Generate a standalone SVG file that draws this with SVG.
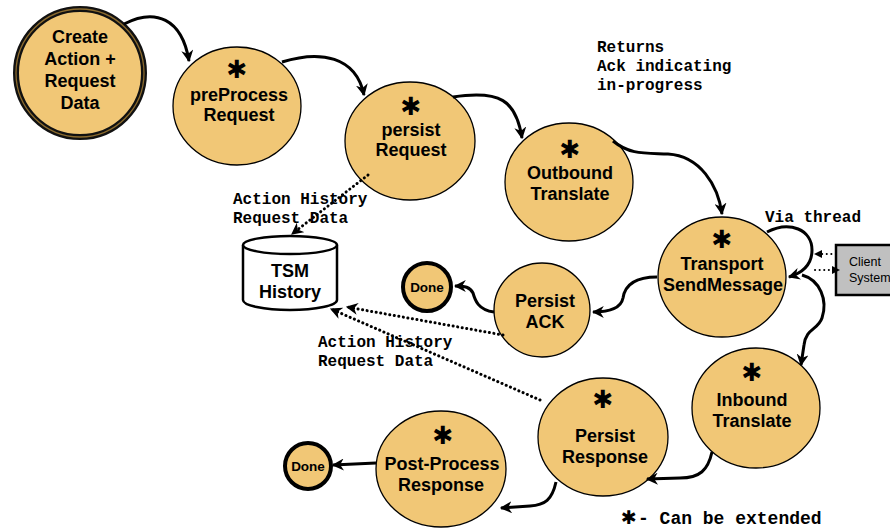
<svg xmlns="http://www.w3.org/2000/svg" width="890" height="529" viewBox="0 0 890 529">
<defs>
<marker id="ah" viewBox="0 0 10 10" refX="9" refY="5" markerWidth="4" markerHeight="4" orient="auto" markerUnits="strokeWidth">
<path d="M0,0 L10,5 L0,10 L3,5 Z" fill="#000"/>
</marker>
<marker id="ahd" viewBox="0 0 10 10" refX="9" refY="5" markerWidth="4" markerHeight="4" orient="auto" markerUnits="strokeWidth">
<path d="M0,0 L10,5 L0,10 L3,5 Z" fill="#000"/>
</marker>
<style>
.n{fill:#F1C776;stroke:#000;stroke-width:1.3}
.t{font-family:"Liberation Sans",Arial,sans-serif;font-weight:bold;font-size:18px;fill:#000;text-anchor:middle}
.s{font-family:"DejaVu Sans",sans-serif;font-weight:bold;font-size:25px;fill:#000;text-anchor:middle}
.m{font-family:"Liberation Mono","Courier New",monospace;font-weight:bold;font-size:16px;fill:#000}
.c{fill:none;stroke:#000;stroke-width:3;marker-end:url(#ah)}
.d{fill:none;stroke:#000;stroke-width:3;stroke-dasharray:0.1 4.5;stroke-linecap:round}
.dm{marker-end:url(#ahd)}
</style>
</defs>
<rect width="890" height="529" fill="#fff"/>

<g id="create">
<circle cx="80" cy="73" r="64" fill="#F1C776" stroke="#111" stroke-width="6"/>
<circle cx="80" cy="73" r="64" fill="none" stroke="#8a6a2e" stroke-width="1.3"/>
<text class="t" x="80" y="43">Create</text>
<text class="t" x="80" y="65">Action +</text>
<text class="t" x="80" y="87">Request</text>
<text class="t" x="80" y="109">Data</text>
</g>

<g id="preprocess">
<ellipse class="n" cx="237" cy="106" rx="64" ry="59"/>
<text class="s" x="237" y="78">✱</text>
<text class="t" x="239" y="101">preProcess</text>
<text class="t" x="239" y="121">Request</text>
</g>

<g id="persistrequest">
<ellipse class="n" cx="410" cy="141" rx="65" ry="59"/>
<text class="s" x="411" y="115">✱</text>
<text class="t" x="411" y="136">persist</text>
<text class="t" x="411" y="156">Request</text>
</g>

<g id="outbound">
<ellipse class="n" cx="569" cy="182" rx="64" ry="59"/>
<text class="s" x="570" y="158">✱</text>
<text class="t" x="570" y="179">Outbound</text>
<text class="t" x="570" y="200">Translate</text>
</g>

<g id="transport">
<ellipse class="n" cx="722" cy="277" rx="64" ry="60"/>
<text class="s" x="722" y="248">✱</text>
<text class="t" x="722" y="270">Transport</text>
<text class="t" x="723" y="291">SendMessage</text>
</g>

<g id="client">
<rect x="836" y="245" width="60" height="50" fill="#C0C0C0" stroke="#000" stroke-width="2.5"/>
<text x="849" y="266" font-family="Liberation Sans,Arial,sans-serif" font-size="12.5" fill="#000">Client</text>
<text x="849" y="282" font-family="Liberation Sans,Arial,sans-serif" font-size="12.5" fill="#000">System</text>
</g>

<g id="inbound">
<ellipse class="n" cx="756" cy="408" rx="64" ry="60"/>
<text class="s" x="752" y="381">✱</text>
<text class="t" x="752" y="406">Inbound</text>
<text class="t" x="752" y="427">Translate</text>
</g>

<g id="persistack">
<ellipse class="n" cx="542" cy="310" rx="48" ry="47"/>
<text class="t" x="545" y="307">Persist</text>
<text class="t" x="545" y="328">ACK</text>
</g>

<g id="done1">
<circle cx="427" cy="287" r="24" fill="#F1C776" stroke="#000" stroke-width="4"/>
<text class="t" x="427" y="292" style="font-size:13.5px">Done</text>
</g>

<g id="persistresponse">
<ellipse class="n" cx="603" cy="437" rx="65" ry="59"/>
<text class="s" x="603" y="408">✱</text>
<text class="t" x="605" y="442">Persist</text>
<text class="t" x="605" y="463">Response</text>
</g>

<g id="postprocess">
<ellipse class="n" cx="441" cy="469" rx="65" ry="58"/>
<text class="s" x="443" y="444">✱</text>
<text class="t" x="442" y="470">Post-Process</text>
<text class="t" x="441" y="491">Response</text>
</g>

<g id="done2">
<circle cx="308" cy="466" r="23" fill="#F1C776" stroke="#000" stroke-width="4"/>
<text class="t" x="308" y="471" style="font-size:13.5px">Done</text>
</g>

<g id="tsmhistory">
<path d="M243,245 L243,300 A47,10 0 0,0 337,300 L337,245" fill="#fff" stroke="#000" stroke-width="2.5"/>
<ellipse cx="290" cy="245" rx="47" ry="9" fill="#fff" stroke="#000" stroke-width="2.5"/>
<text class="t" x="290" y="277">TSM</text>
<text class="t" x="290" y="298">History</text>
</g>

<g id="labels">
<text class="m" x="597" y="52">Returns</text>
<text class="m" x="597" y="71">Ack indicating</text>
<text class="m" x="597" y="90">in-progress</text>
<text class="m" x="765" y="222">Via thread</text>
<text class="m" x="233" y="204">Action History</text>
<text class="m" x="233" y="223">Request Data</text>
<text class="m" x="318" y="347">Action History</text>
<text class="m" x="318" y="366">Request Data</text>
<text class="s" x="629" y="524" style="font-size:19px">✱</text>
<text class="m" x="638" y="524" style="font-size:18px">- Can be extended</text>
</g>

<g id="connectors">
<path class="c" d="M124,24 C155,8 182,18 189,61"/>
<path class="c" d="M282,62 C320,50 356,56 364,95"/>
<path class="c" d="M453,97 C500,90 516,100 522,138"/>
<path class="c" d="M613,141 C630,155 645,153 668,154 C700,156 718,185 722,214"/>
<path class="c" d="M767,232 C790,220 812,230 812,250 C812,265 802,273 789,277"/>
<path class="c" d="M802,275 C820,280 828,300 822,318 C818,330 806,328 804,345 L801,365"/>
<path class="c" d="M657,277 C636,277 625,285 623,298 C621,308 610,312 593,312"/>
<path class="c" d="M494,312 C478,310 475,300 473,293 C470,287 465,286 455,286"/>
<path class="c" d="M712,452 C708,470 700,478 680,478 L647,479"/>
<path class="c" d="M556,482 C552,500 545,505 530,506 L501,508"/>
<path class="c" d="M376,463 L333,465"/>
<path class="d dm" d="M368,175 L292,234"/>
<path class="d dm" d="M503,335 L347,307"/>
<path class="d dm" d="M540,400 L331,309"/>
<path class="d" d="M836,254 L820,254" style="stroke-width:2"/>
<path d="M822,250 L814,254 L822,258 Z" fill="#000"/>
<path class="d" d="M815,270 L832,270" style="stroke-width:2"/>
<path d="M832,266 L840,270 L832,274 Z" fill="#000"/>
</g>
</svg>
